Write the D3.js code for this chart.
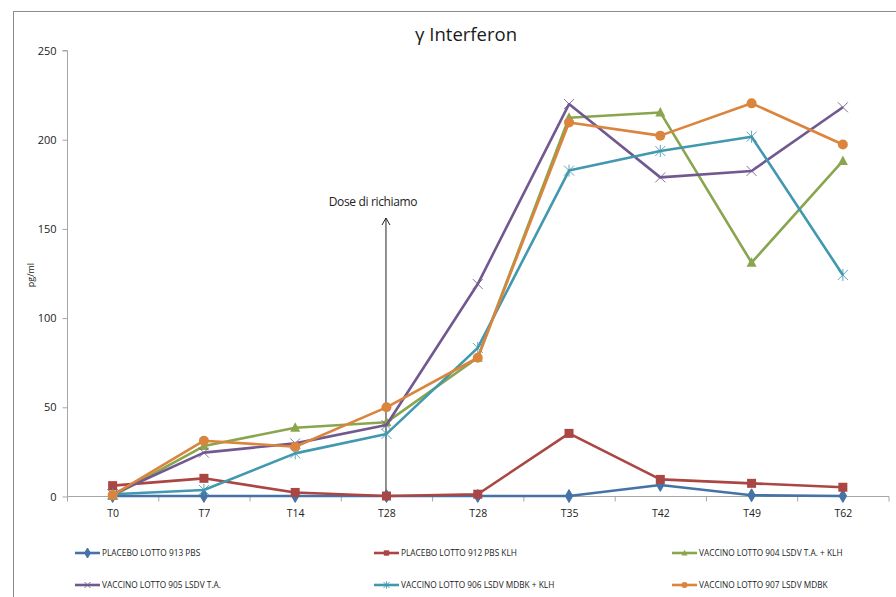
<!DOCTYPE html>
<html>
<head>
<meta charset="utf-8">
<script src="https://cdn.jsdelivr.net/npm/d3@7"></script>
<style>
  html, body { margin: 0; padding: 0; background: #fff; }
  svg { display: block; }
  text { font-family: "Open Sans", "DejaVu Sans", sans-serif; }
</style>
</head>
<body>
<svg id="chart" width="896" height="597"></svg>
<script>
// Sampling times (T28 appears twice: primary and booster draw)
const categories = ["T0", "T7", "T14", "T28", "T28", "T35", "T42", "T49", "T62"];
const yTicks = [0, 50, 100, 150, 200, 250];

const placebo913 = [0, 0, 0, 0, 0, 0, 6.2, 0.4, 0];
const placebo912 = [5.8, 9.9, 2, 0, 1, 35.1, 9.3, 7.1, 4.9];
const vaccino904 = [0, 28, 38.3, 41.3, 77.5, 212, 215, 130.8, 187.8];
const vaccino905 = [1, 24.3, 29.5, 39.8, 118.8, 219.7, 178.6, 182.2, 217.9];
const vaccino906 = [1, 3.4, 23.9, 34.8, 83, 182.4, 193.4, 201.4, 123.9];
const vaccino907 = [0.5, 31, 27.6, 49.7, 77.5, 209.4, 202, 220.1, 197];

const seriesNames = [
  "PLACEBO LOTTO 913 PBS",
  "PLACEBO LOTTO 912 PBS KLH",
  "VACCINO LOTTO 904 LSDV T.A. + KLH",
  "VACCINO LOTTO 905 LSDV T.A.",
  "VACCINO LOTTO 906 LSDV MDBK + KLH",
  "VACCINO LOTTO 907 LSDV MDBK"
];
const seriesColors = ["#4572A7", "#AA4643", "#89A54E", "#71588F", "#4198AF", "#DB843D"];
const seriesMarkers = ["diamond", "square", "triangle", "cross", "star", "circle"];
const seriesValues = [placebo913, placebo912, vaccino904, vaccino905, vaccino906, vaccino907];

const series = seriesNames.map((name, i) => ({
  name, color: seriesColors[i], marker: seriesMarkers[i], values: seriesValues[i]
}));

const svg = d3.select("#chart");

// Outer chart frame
svg.append("rect")
  .attr("x", 13.5).attr("y", 11.5)
  .attr("width", 1000).attr("height", 700)
  .attr("fill", "none").attr("stroke", "#8c8c8c").attr("stroke-width", 1);

const plot = { left: 67, right: 888.5, top: 50, bottom: 496 };

const x = d3.scaleBand()
  .domain(d3.range(categories.length))
  .range([plot.left, plot.right])
  .padding(0);
const xc = i => x(i) + x.bandwidth() / 2;

const y = d3.scaleLinear().domain([0, 250]).range([plot.bottom, plot.top]);

// Title
svg.append("text")
  .attr("x", 466).attr("y", 41)
  .attr("text-anchor", "middle")
  .attr("font-size", 18.5)
  .attr("fill", "#1a1a1a")
  .text("γ Interferon");

// Y axis
const yAxis = d3.axisLeft(y).tickValues(yTicks).tickSize(5).tickPadding(6);
const gy = svg.append("g").attr("transform", `translate(${plot.left + 0.5},0.5)`).call(yAxis);
gy.select(".domain").attr("stroke", "#a6a6a6").attr("d", `M-5,${plot.top}H0V${plot.bottom}`);
gy.selectAll(".tick line").attr("stroke", "#a6a6a6");
gy.selectAll(".tick text").attr("font-size", 11).attr("fill", "#222")
  .style("font-family", "'Open Sans', sans-serif");

// X axis: labels centered in bands, tick marks at band boundaries
const gx = svg.append("g").attr("transform", `translate(0.5,${plot.bottom + 0.5})`);
gx.append("line").attr("x1", plot.left).attr("x2", plot.right)
  .attr("stroke", "#a6a6a6");
gx.selectAll("line.tk").data(d3.range(categories.length + 1)).join("line")
  .attr("class", "tk")
  .attr("x1", i => i < categories.length ? x(i) : plot.right)
  .attr("x2", i => i < categories.length ? x(i) : plot.right)
  .attr("y1", 0).attr("y2", 5)
  .attr("stroke", "#a6a6a6");
gx.selectAll("text").data(categories).join("text")
  .attr("x", (d, i) => xc(i))
  .attr("y", 20)
  .attr("text-anchor", "middle")
  .attr("font-size", 10.5)
  .attr("fill", "#222")
  .text(d => d);

// Y axis title
svg.append("text")
  .attr("transform", "translate(34,275) rotate(-90)")
  .attr("text-anchor", "middle")
  .attr("font-size", 9)
  .attr("fill", "#222")
  .text("pg/ml");

// Booster annotation arrow at the first T28
const arrowX = xc(3) - 0.5;
svg.append("line")
  .attr("x1", arrowX).attr("x2", arrowX)
  .attr("y1", plot.bottom).attr("y2", 218)
  .attr("stroke", "#222").attr("stroke-width", 1);
svg.append("path")
  .attr("d", `M${arrowX - 4},${225}L${arrowX},${218}L${arrowX + 4},${225}`)
  .attr("fill", "none").attr("stroke", "#222").attr("stroke-width", 1);
svg.append("text")
  .attr("x", arrowX - 13).attr("y", 206)
  .attr("text-anchor", "middle")
  .attr("font-size", 12)
  .attr("fill", "#222")
  .style("letter-spacing", "-0.35px")
  .text("Dose di richiamo");

// Marker drawing
function drawMarker(g, type, color, size) {
  const s = size || 1;
  switch (type) {
    case "diamond":
      g.append("path").attr("d", d3.symbol(d3.symbolDiamond, 48 * s)())
        .attr("fill", color).attr("stroke", color);
      break;
    case "square":
      g.append("rect").attr("x", -4.5 * s).attr("y", -4.5 * s)
        .attr("width", 9 * s).attr("height", 9 * s)
        .attr("fill", color).attr("stroke", "none");
      break;
    case "triangle":
      g.append("path").attr("d", `M0,${-5.5 * s}L${5 * s},${4 * s}L${-5 * s},${4 * s}Z`)
        .attr("fill", color).attr("stroke", "none");
      break;
    case "circle":
      g.append("circle").attr("r", 5 * s).attr("fill", color);
      break;
    case "cross":
      g.append("path").attr("d", `M${-5 * s},${-5 * s}L${5 * s},${5 * s}M${-5 * s},${5 * s}L${5 * s},${-5 * s}`)
        .attr("stroke", color).attr("stroke-width", 1).attr("fill", "none").attr("opacity", 0.85);
      break;
    case "star":
      g.append("path").attr("d", `M${-5 * s},${-5 * s}L${5 * s},${5 * s}M${-5 * s},${5 * s}L${5 * s},${-5 * s}M0,${-6 * s}V${6 * s}`)
        .attr("stroke", color).attr("stroke-width", 1).attr("fill", "none").attr("opacity", 0.85);
      break;
  }
}

const line = d3.line().x((d, i) => xc(i)).y(d => y(d));

const gSeries = svg.append("g");
series.forEach(s => {
  const g = gSeries.append("g");
  g.append("path")
    .attr("d", line(s.values))
    .attr("fill", "none")
    .attr("stroke", s.color)
    .attr("stroke-width", 2.6)
    .attr("stroke-linejoin", "round");
  s.values.forEach((v, i) => {
    const m = g.append("g").attr("transform", `translate(${xc(i)},${y(v)})`);
    drawMarker(m, s.marker, s.color, 1);
  });
});

// Legend: 3 columns x 2 rows
const legendCols = [75, 374, 672];
const legendRows = [553, 585];
series.forEach((s, i) => {
  const lx = legendCols[i % 3];
  const ly = legendRows[Math.floor(i / 3)];
  const g = svg.append("g").attr("transform", `translate(${lx},${ly})`);
  g.append("line").attr("x1", 0).attr("x2", 25).attr("y1", 0).attr("y2", 0)
    .attr("stroke", s.color).attr("stroke-width", 2.6);
  const m = g.append("g").attr("transform", "translate(12.5,0)");
  drawMarker(m, s.marker, s.color, 0.6);
  g.append("text")
    .attr("x", 27).attr("y", 3)
    .attr("font-size", 8.3)
    .attr("fill", "#222")
    .style("font-family", "'Liberation Sans Narrow', 'Open Sans', sans-serif")
    .text(s.name);
});
</script>
</body>
</html>
